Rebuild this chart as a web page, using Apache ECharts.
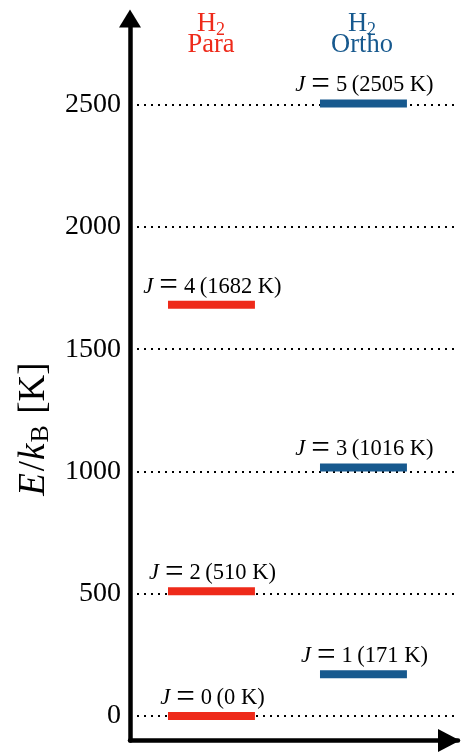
<!DOCTYPE html>
<html><head><meta charset="utf-8">
<script src="https://cdn.jsdelivr.net/npm/echarts@6/dist/echarts.min.js"></script>
<style>html,body{margin:0;padding:0;background:#fff}#c{width:461px;height:756px}</style>
</head><body><div id="c"></div>
<script>
const species = ['Para', 'Ortho'];
const speciesColors = ['#ee2a1a', '#17598e'];
const paraJ = [0, 2, 4];
const paraE = [0, 510, 1682];
const orthoJ = [1, 3, 5];
const orthoE = [171, 1016, 2505];
const yTicks = [0, 500, 1000, 1500, 2000, 2500];

const FONT = '"Liberation Serif", "Times New Roman", serif';
const levels = [];
paraJ.forEach((j, i) => levels.push([1, paraE[i], j, 0]));
orthoJ.forEach((j, i) => levels.push([2, orthoE[i], j, 1]));

const labelRich = {
  i: { fontFamily: FONT, fontStyle: 'italic', fontSize: 22.5, fill: '#000', padding: [0, 6, 0, 0] },
  e: { fontFamily: FONT, fontSize: 33, fill: '#000', padding: [0, 6, 0, 0] },
  t: { fontFamily: FONT, fontSize: 22.5, fill: '#000' }
};

function header(color) {
  return {
    h: { fontFamily: FONT, fontSize: 26.5, fill: color, lineHeight: 30, verticalAlign: 'middle' },
    s: { fontFamily: FONT, fontSize: 18, fill: color, lineHeight: 15, verticalAlign: 'bottom' }
  };
}

const chart = echarts.init(document.getElementById('c'), null, { renderer: 'canvas' });
chart.setOption({
  animation: false,
  backgroundColor: '#fff',
  grid: { left: 130, right: 3, top: 16.6, bottom: 15.5, outerBoundsMode: 'none', containLabel: false },
  xAxis: {
    type: 'value', min: 0.464, max: 2.622,
    axisLine: { show: true, onZero: false, lineStyle: { color: '#000', width: 4.5 }, symbol: ['none', 'triangle'], symbolSize: [23, 22], symbolOffset: [0, -9] },
    axisTick: { show: false }, axisLabel: { show: false }, splitLine: { show: false }
  },
  yAxis: {
    type: 'value', min: -100, max: 2860,
    name: '{i|E}{t|/}{i|k}{s|B}{t|\u2009[K]}',
    nameLocation: 'middle', nameGap: 76, nameRotate: 90,
    nameTextStyle: {
      padding: [0, 100, 0, 0],
      rich: {
        i: { fontFamily: FONT, fontStyle: 'italic', fontSize: 37, color: '#000', lineHeight: 40, verticalAlign: 'middle', padding: [0, 1, 0, 0] },
        t: { fontFamily: FONT, fontSize: 37, color: '#000', lineHeight: 40, verticalAlign: 'middle', padding: [0, 1, 0, 1] },
        s: { fontFamily: FONT, fontSize: 26, color: '#000', lineHeight: 20, verticalAlign: 'bottom', padding: [0, 3, 0, 0] }
      }
    },
    axisLine: { show: true, onZero: false, lineStyle: { color: '#000', width: 4.5 }, symbol: ['none', 'triangle'], symbolSize: [22, 18], symbolOffset: [0, -2] },
    axisTick: { show: false, customValues: yTicks },
    axisLabel: { customValues: yTicks, fontSize: 28, fontFamily: FONT, color: '#000', margin: 9, formatter: v => String(v) },
    splitLine: { show: true, lineStyle: { type: [2, 5], color: '#000', width: 2 } }
  },
  graphic: [
    { type: 'text', x: 211, y: 24, style: { text: '{h|H}{s|2}', rich: header(speciesColors[0]), align: 'center', verticalAlign: 'middle' } },
    { type: 'text', x: 211, y: 45, style: { text: species[0], fontFamily: FONT, fontSize: 26.5, fill: speciesColors[0], align: 'center', verticalAlign: 'middle' } },
    { type: 'text', x: 362, y: 24, style: { text: '{h|H}{s|2}', rich: header(speciesColors[1]), align: 'center', verticalAlign: 'middle' } },
    { type: 'text', x: 362, y: 45, style: { text: species[1], fontFamily: FONT, fontSize: 26.5, fill: speciesColors[1], align: 'center', verticalAlign: 'middle' } }
  ],
  series: [{
    type: 'custom',
    data: levels,
    clip: false,
    renderItem: function (params, api) {
      const x = api.value(0), e = api.value(1);
      const p0 = api.coord([x - 0.286, e]);
      const p1 = api.coord([x + 0.286, e]);
      const color = speciesColors[api.value(3)];
      return {
        type: 'group',
        children: [
          { type: 'rect', shape: { x: p0[0], y: p0[1] - 4, width: p1[0] - p0[0], height: 8 }, style: { fill: color } },
          { type: 'text', x: (p0[0] + p1[0]) / 2 + 1, y: p0[1] - 18,
            style: { text: '{i|J}{e|=}{t|' + api.value(2) + '\u2009(' + e + ' K)}', rich: labelRich, align: 'center', verticalAlign: 'middle' } }
        ]
      };
    }
  }]
});
</script>
</body></html>
